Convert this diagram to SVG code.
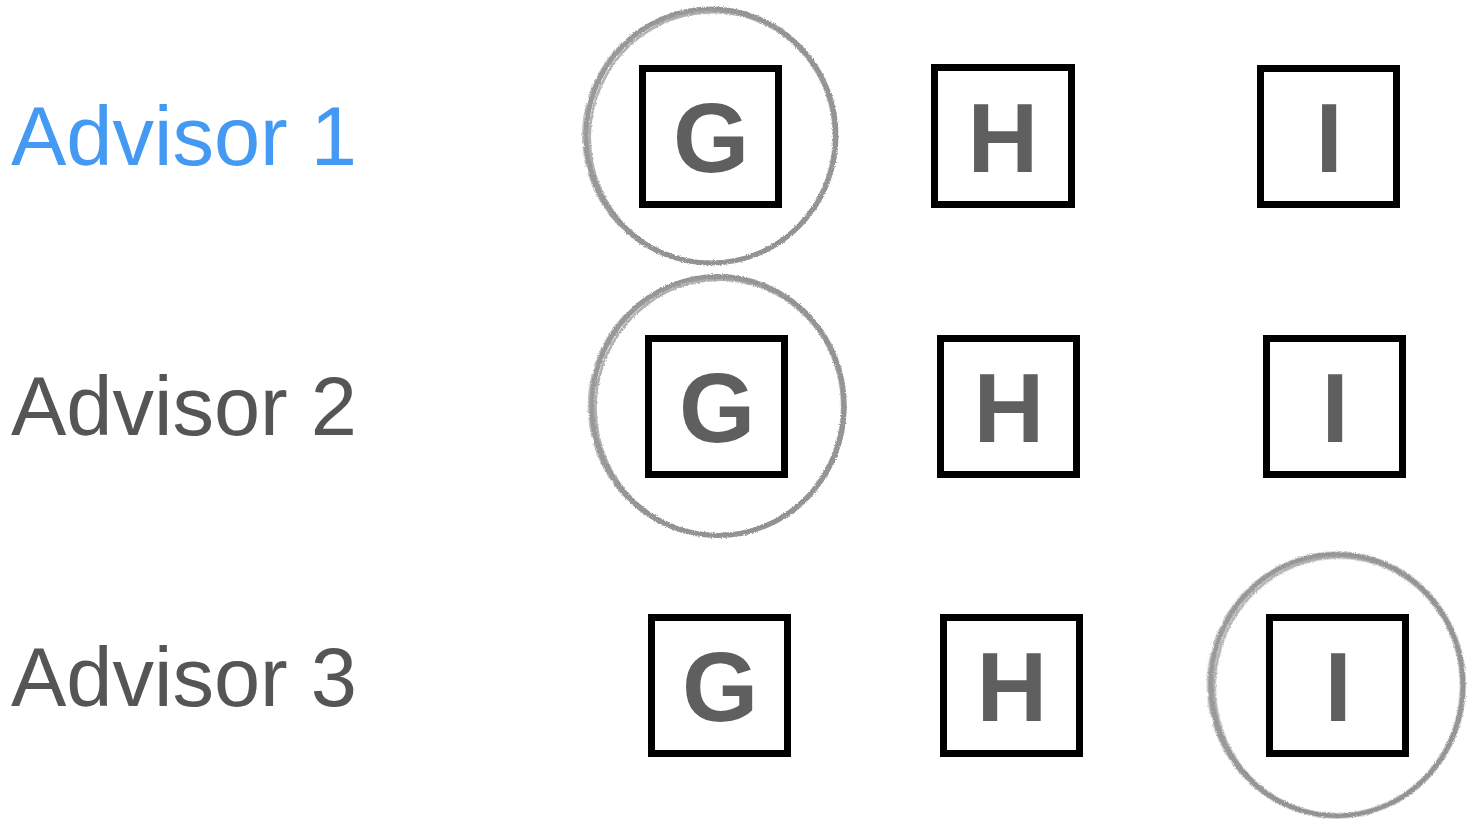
<svg xmlns="http://www.w3.org/2000/svg" width="1478" height="822" viewBox="0 0 1478 822">
<defs>
<style>
.lbl{font-family:"Liberation Sans",Arial,sans-serif;font-size:83px;fill:#555555}
.lbl1{fill:#4499f2}
.box{fill:#ffffff;stroke:#000000;stroke-width:7}
.let{font-family:"Liberation Sans",Arial,sans-serif;font-weight:bold;font-size:98px;fill:#5f5f5f;text-anchor:middle}
.brush{fill:none;stroke:#8e8e8e}
</style>
<filter id="rough" x="-10%" y="-10%" width="120%" height="120%">
<feTurbulence type="fractalNoise" baseFrequency="0.9" numOctaves="2" seed="3" result="n"/>
<feDisplacementMap in="SourceGraphic" in2="n" scale="3" xChannelSelector="R" yChannelSelector="G"/>
</filter>
<g id="brushring">
<ellipse class="brush" cx="0" cy="0" rx="125" ry="127" stroke-width="5" opacity="0.9"/>
<ellipse class="brush" cx="1" cy="1" rx="122" ry="125" stroke-width="2.5" opacity="0.7" transform="rotate(8)"/>
<ellipse class="brush" cx="-1" cy="0" rx="127" ry="128" stroke-width="2" opacity="0.55" stroke-dasharray="40 6 20 4" transform="rotate(-12)"/>
</g>
</defs>
<rect width="1478" height="822" fill="#ffffff"/>
<g id="labels">
<text id="advisor1" class="lbl lbl1" x="11" y="165">Advisor 1</text>
<text id="advisor2" class="lbl" x="11" y="435">Advisor 2</text>
<text id="advisor3" class="lbl" x="11" y="706">Advisor 3</text>
</g>
<g id="row1">
<g id="r1g"><rect class="box" x="642.5" y="68.5" width="136" height="136"/><text class="let" x="711" y="172">G</text></g>
<g id="r1h"><rect class="box" x="934.5" y="67.5" width="137" height="137"/><text class="let" x="1003" y="172">H</text></g>
<g id="r1i"><rect class="box" x="1260.5" y="68.5" width="136" height="136"/><text class="let" x="1329" y="172">I</text></g>
</g>
<g id="row2">
<g id="r2g"><rect class="box" x="648.5" y="338.5" width="136" height="136"/><text class="let" x="717" y="442">G</text></g>
<g id="r2h"><rect class="box" x="940.5" y="338.5" width="136" height="136"/><text class="let" x="1009" y="442">H</text></g>
<g id="r2i"><rect class="box" x="1266.5" y="338.5" width="136" height="136"/><text class="let" x="1335" y="442">I</text></g>
</g>
<g id="row3">
<g id="r3g"><rect class="box" x="651.5" y="617.5" width="136" height="136"/><text class="let" x="720" y="721">G</text></g>
<g id="r3h"><rect class="box" x="943.5" y="617.5" width="136" height="136"/><text class="let" x="1012" y="721">H</text></g>
<g id="r3i"><rect class="box" x="1269.5" y="617.5" width="136" height="136"/><text class="let" x="1338" y="721">I</text></g>
</g>
<g id="selections" filter="url(#rough)">
<use href="#brushring" transform="translate(711,136)"/>
<use href="#brushring" transform="translate(718,406) scale(1.01,1.02)"/>
<use href="#brushring" transform="translate(1337,685) scale(1.01,1.03)"/>
</g>
</svg>
